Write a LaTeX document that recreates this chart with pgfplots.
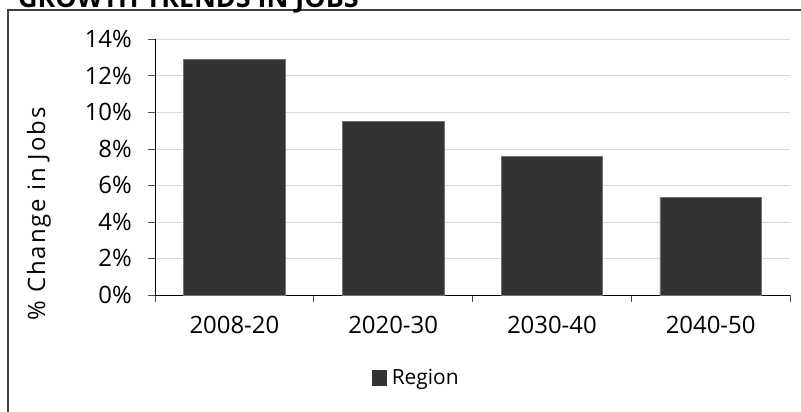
\documentclass[border=0pt]{standalone}
\usepackage{pgfplots}
\pgfplotsset{compat=1.18}
\usepackage{fontspec}
\setmainfont{Open Sans}
\newfontfamily\labfont[LetterSpace=8]{Open Sans}
\definecolor{barc}{HTML}{333333}
\definecolor{gridc}{HTML}{D9D9D9}
\begin{document}
\begin{tikzpicture}[x=1bp,y=1bp]
\path[use as bounding box, clip] (0,0) rectangle (801,411);
\draw[color=black!75, line width=1.5bp] (8,-5) -- (8,401) -- (810,401);
\node[anchor=base west, inner sep=0, font=\fontsize{27}{30}\selectfont\bfseries] at (18,403) {GROWTH TRENDS IN JOBS};
\node[rotate=90, anchor=base, inner sep=0, font=\labfont\fontsize{24}{27}\selectfont] at (45,197) {\% Change in Jobs};
\begin{axis}[
 at={(155bp,116bp)}, anchor=south west, scale only axis,
 width=635bp, height=255.5bp,
 xmin=-0.5, xmax=3.5, ymin=0, ymax=14,
 axis x line*=bottom, axis y line*=left,
 axis line style={black, line width=1bp},
 /pgf/number format/assume math mode=true,
 xtick={-0.5,0.5,1.5,2.5,3.5}, xticklabels={,,,,},
 extra x ticks={0,1,2,3},
 extra x tick labels={2008-20,2020-30,2030-40,2040-50},
 extra x tick style={major tick length=0pt, tick label style={anchor=base, yshift=-38bp}},
 ytick={0,2,...,14}, yticklabel={\pgfmathprintnumber{\tick}\%},
 yticklabel style={anchor=base east, inner sep=0pt, xshift=-16bp, yshift=-8bp},
 ymajorgrids, grid style={gridc, line width=1bp},
 tick align=outside, major tick length=7bp,
 tick style={black!70, line width=1bp},
 ticklabel style={font=\fontsize{24}{27}\selectfont},
 legend style={at={(rel axis cs:0.3417,-0.323)}, anchor=west, draw=none, fill=none,
   inner sep=0pt, font=\fontsize{21}{24}\selectfont,
   nodes={inner sep=0pt}, /tikz/every odd column/.style={column sep=5bp}},
 legend image code/.code={\fill[barc] (0bp,-7.5bp) rectangle (14bp,7.5bp);},
]
\addplot[ybar, bar width=101.5bp, fill=barc, draw=black!55, line width=0.6bp]
  coordinates {(0,12.9) (1,9.5) (2,7.6) (3,5.35)};
\addlegendentry{Region}
\end{axis}
\end{tikzpicture}
\end{document}
